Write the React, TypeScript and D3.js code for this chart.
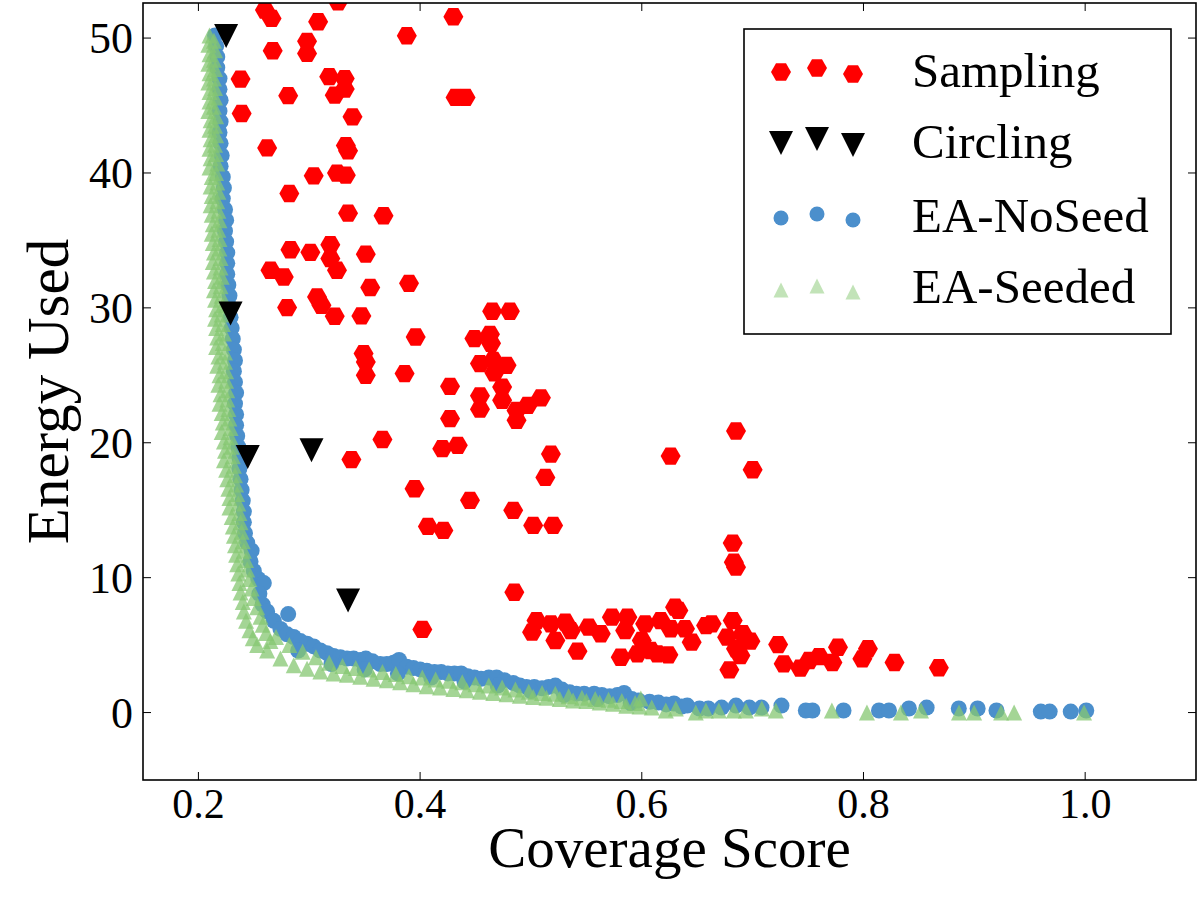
import React from 'react';
import * as d3 from 'd3';

// Sampling (red hexagons) — [coverage, energy]
const samplingPoints: [number, number][] = [
  [0.260, 52.08], [0.266, 51.46], [0.326, 52.69], [0.308, 51.21], [0.298, 49.76], [0.298, 48.86],
  [0.267, 49.06], [0.388, 50.17], [0.430, 51.58], [0.238, 46.96], [0.318, 47.14], [0.332, 47.0],
  [0.323, 45.77], [0.332, 46.22], [0.281, 45.73], [0.239, 44.41], [0.339, 44.16], [0.432, 45.60],
  [0.441, 45.60], [0.262, 41.86], [0.333, 42.03], [0.335, 41.64], [0.304, 39.79], [0.325, 39.99],
  [0.333, 39.84], [0.282, 38.48], [0.335, 37.02], [0.367, 36.83], [0.283, 34.31], [0.301, 34.12],
  [0.319, 34.68], [0.351, 33.98], [0.319, 33.66], [0.325, 32.79], [0.265, 32.79], [0.277, 32.29],
  [0.355, 31.51], [0.390, 31.82], [0.280, 30.02], [0.307, 30.81], [0.311, 30.19], [0.323, 29.38],
  [0.347, 29.40], [0.465, 29.75], [0.481, 29.75], [0.396, 27.84], [0.449, 27.72], [0.463, 28.04],
  [0.464, 27.37], [0.349, 26.61], [0.351, 25.99], [0.351, 25.0], [0.386, 25.13], [0.454, 25.87],
  [0.466, 26.11], [0.478, 25.74], [0.467, 25.19], [0.427, 24.18], [0.454, 23.48], [0.454, 22.49],
  [0.474, 24.13], [0.474, 23.15], [0.487, 22.40], [0.487, 21.66], [0.497, 22.77], [0.509, 23.33],
  [0.427, 21.79], [0.366, 20.24], [0.338, 18.75], [0.420, 19.56], [0.434, 19.81], [0.518, 19.16],
  [0.513, 17.43], [0.395, 16.59], [0.445, 15.73], [0.484, 14.99], [0.407, 13.80], [0.421, 13.50],
  [0.502, 13.87], [0.520, 13.87], [0.626, 19.01], [0.685, 20.87], [0.700, 18.0], [0.682, 12.56],
  [0.683, 11.15], [0.685, 10.78], [0.485, 8.92], [0.402, 6.16], [0.505, 6.82], [0.501, 5.96],
  [0.518, 6.58], [0.522, 5.34], [0.531, 6.70], [0.536, 6.08], [0.552, 6.33], [0.563, 5.84],
  [0.542, 4.55], [0.573, 7.07], [0.587, 7.07], [0.585, 6.08], [0.581, 4.10], [0.596, 4.35],
  [0.600, 5.34], [0.603, 6.58], [0.617, 6.82], [0.614, 4.35], [0.624, 4.28], [0.626, 6.21],
  [0.633, 7.57], [0.630, 7.81], [0.639, 6.21], [0.645, 5.22], [0.658, 6.45], [0.663, 6.58],
  [0.682, 6.82], [0.677, 5.59], [0.691, 5.84], [0.698, 5.29], [0.685, 4.73], [0.689, 4.23],
  [0.679, 3.17], [0.723, 5.04], [0.728, 3.61], [0.743, 3.30], [0.751, 3.86], [0.760, 4.15],
  [0.772, 3.71], [0.777, 4.84], [0.799, 3.98], [0.804, 4.73], [0.828, 3.71], [0.868, 3.32],
  [0.608, 4.60],
];

// Circling (black down triangles)
const circlingPoints: [number, number][] = [
  [0.225, 50.15], [0.229, 29.58], [0.2445, 18.94], [0.302, 19.44], [0.335, 8.31],
];

// EA-NoSeed (blue circles)
const noSeedPoints: [number, number][] = [
  [0.215, 50.2], [0.216, 49.4], [0.217, 48.6], [0.217, 47.8], [0.219, 47.0], [0.219, 46.2],
  [0.220, 45.4], [0.219, 44.6], [0.220, 43.8], [0.219, 43.0], [0.220, 42.2], [0.221, 41.3],
  [0.220, 40.5], [0.222, 39.7], [0.223, 38.9], [0.222, 38.1], [0.224, 37.3], [0.225, 36.5],
  [0.224, 35.7], [0.225, 34.9], [0.226, 34.1], [0.226, 33.3], [0.226, 32.5], [0.227, 31.7],
  [0.228, 30.9], [0.228, 30.1], [0.229, 29.3], [0.230, 28.5], [0.231, 27.7], [0.232, 26.9],
  [0.233, 26.1], [0.232, 25.3], [0.233, 24.5], [0.234, 23.7], [0.233, 22.9], [0.234, 22.1],
  [0.234, 21.3], [0.235, 20.5], [0.236, 19.7], [0.237, 18.9], [0.237, 18.1], [0.238, 17.3],
  [0.239, 16.5], [0.240, 15.7], [0.241, 14.9], [0.241, 14.1], [0.242, 13.3], [0.244, 12.6],
  [0.248, 12.0], [0.247, 11.2], [0.250, 10.5], [0.254, 9.9], [0.259, 9.6], [0.255, 8.8],
  [0.258, 8.0], [0.262, 7.5], [0.281, 7.3], [0.268, 6.8], [0.274, 6.2], [0.280, 5.8],
  [0.286, 5.6], [0.292, 5.3], [0.298, 5.1], [0.304, 4.9], [0.310, 4.6], [0.316, 4.4],
  [0.322, 4.2], [0.328, 4.1], [0.334, 4.0], [0.340, 4.0], [0.346, 3.9], [0.351, 4.0],
  [0.357, 3.8], [0.364, 3.6], [0.370, 3.6], [0.376, 3.7], [0.381, 3.9], [0.388, 3.4],
  [0.394, 3.3], [0.400, 3.2], [0.406, 3.1], [0.413, 3.0], [0.419, 3.0], [0.425, 2.9],
  [0.431, 2.9], [0.437, 2.9], [0.443, 2.7], [0.449, 2.6], [0.455, 2.5], [0.462, 2.6],
  [0.469, 2.6], [0.476, 2.4], [0.484, 2.2], [0.490, 2.0], [0.496, 1.9], [0.503, 1.9],
  [0.510, 1.8], [0.516, 1.9], [0.522, 2.0], [0.528, 1.7], [0.535, 1.5], [0.541, 1.4],
  [0.548, 1.4], [0.557, 1.4], [0.564, 1.3], [0.571, 1.2], [0.578, 1.3], [0.584, 1.45],
  [0.591, 1.0], [0.597, 0.9], [0.607, 0.8], [0.615, 0.74], [0.622, 0.6], [0.629, 0.67],
  [0.636, 0.45], [0.641, 0.52], [0.652, 0.3], [0.660, 0.3], [0.672, 0.37], [0.685, 0.52],
  [0.697, 0.37], [0.708, 0.37], [0.726, 0.52], [0.748, 0.15], [0.754, 0.15], [0.782, 0.15],
  [0.814, 0.15], [0.823, 0.15], [0.841, 0.3], [0.857, 0.37], [0.886, 0.3], [0.903, 0.3],
  [0.920, 0.15], [0.960, 0.07], [0.968, 0.07], [0.987, 0.07], [1.001, 0.15],
  // lower row of the bend, mostly under the green
  [0.290, 4.6], [0.320, 3.6], [0.350, 3.2], [0.380, 2.9], [0.410, 2.6], [0.440, 2.3],
  [0.470, 2.0], [0.500, 1.6], [0.530, 1.3], [0.560, 1.0], [0.590, 0.7],
];

// EA-Seeded (green up triangles)
const seededPoints: [number, number][] = [
  // left column of the steep part
  [0.210, 50.2], [0.209, 49.5], [0.210, 48.8], [0.209, 48.1], [0.210, 47.4], [0.209, 46.7],
  [0.210, 46.0], [0.210, 45.3], [0.209, 44.6], [0.211, 43.9], [0.210, 43.2], [0.211, 42.5],
  [0.210, 41.8], [0.211, 41.1], [0.210, 40.4], [0.212, 39.7], [0.211, 39.0], [0.212, 38.3],
  [0.211, 37.6], [0.212, 36.9], [0.213, 36.2], [0.212, 35.5], [0.213, 34.8], [0.214, 34.1],
  [0.213, 33.4], [0.214, 32.7], [0.215, 32.0], [0.214, 31.3], [0.215, 30.6], [0.216, 29.9],
  [0.215, 29.2], [0.216, 28.5], [0.217, 27.8], [0.216, 27.1], [0.218, 26.4], [0.217, 25.7],
  [0.219, 25.0], [0.218, 24.3], [0.220, 23.6], [0.219, 22.9], [0.221, 22.2], [0.222, 21.5],
  [0.221, 20.8], [0.223, 20.1], [0.224, 19.4], [0.223, 18.7], [0.225, 18.0], [0.226, 17.3],
  [0.227, 16.6], [0.228, 15.9], [0.228, 15.2], [0.230, 14.5], [0.231, 13.8], [0.232, 13.1],
  [0.233, 12.4], [0.234, 11.7], [0.235, 11.0], [0.236, 10.3], [0.237, 9.6], [0.238, 8.9],
  [0.240, 8.2], [0.241, 7.5], [0.243, 6.8], [0.246, 6.1], [0.249, 5.5], [0.253, 5.0],
  // right column of the steep part
  [0.214, 49.8], [0.215, 49.1], [0.214, 48.4], [0.215, 47.7], [0.214, 47.0], [0.215, 46.3],
  [0.215, 45.6], [0.214, 44.9], [0.216, 44.2], [0.215, 43.5], [0.216, 42.8], [0.215, 42.1],
  [0.216, 41.4], [0.217, 40.7], [0.216, 40.0], [0.217, 39.3], [0.218, 38.6], [0.217, 37.9],
  [0.218, 37.2], [0.219, 36.5], [0.218, 35.8], [0.219, 35.1], [0.219, 34.4], [0.220, 33.7],
  [0.220, 33.0], [0.221, 32.3], [0.220, 31.6], [0.221, 30.9], [0.222, 30.2], [0.221, 29.5],
  [0.222, 28.8], [0.223, 28.1], [0.222, 27.4], [0.224, 26.7], [0.224, 26.0], [0.225, 25.3],
  [0.225, 24.6], [0.226, 23.9], [0.226, 23.2], [0.227, 22.5], [0.228, 21.8], [0.229, 21.1],
  [0.229, 20.4], [0.230, 19.7], [0.231, 19.0], [0.232, 18.3], [0.233, 17.6], [0.234, 16.9],
  [0.235, 16.2], [0.236, 15.5], [0.237, 14.8], [0.238, 14.1], [0.239, 13.4], [0.240, 12.7],
  [0.241, 12.0], [0.243, 11.3], [0.244, 10.6], [0.246, 9.9], [0.248, 9.2], [0.250, 8.5],
  [0.253, 7.8], [0.256, 7.1], [0.258, 6.5], [0.261, 5.9], [0.265, 5.3],
  // upper row of the bend
  [0.270, 5.6], [0.282, 5.0], [0.294, 4.5], [0.306, 4.1], [0.318, 3.7], [0.330, 3.45],
  [0.342, 3.3], [0.354, 3.2], [0.366, 3.0], [0.378, 2.85], [0.390, 2.7], [0.402, 2.6],
  [0.414, 2.45], [0.426, 2.35], [0.438, 2.25], [0.450, 2.1], [0.462, 2.0], [0.474, 1.85],
  [0.486, 1.7], [0.498, 1.55], [0.510, 1.45], [0.522, 1.4], [0.534, 1.2], [0.546, 1.1],
  [0.558, 1.0], [0.570, 0.95], [0.582, 0.85], [0.594, 0.7],
  // lower row of the bend
  [0.262, 4.6], [0.274, 4.0], [0.286, 3.5], [0.298, 3.25], [0.310, 3.05], [0.322, 2.9],
  [0.334, 2.8], [0.346, 2.65], [0.358, 2.5], [0.370, 2.4], [0.382, 2.25], [0.394, 2.1],
  [0.406, 1.95], [0.418, 1.85], [0.430, 1.75], [0.442, 1.65], [0.454, 1.55], [0.466, 1.45],
  [0.478, 1.35], [0.490, 1.25], [0.502, 1.15], [0.514, 1.1], [0.526, 1.0], [0.538, 0.9],
  [0.550, 0.85], [0.562, 0.75], [0.574, 0.65], [0.586, 0.5], [0.598, 0.45],
  // tail
  [0.5991, 1.04], [0.609, 0.37], [0.6217, 0.15], [0.6307, 0.30], [0.6487, 0.0],
  [0.6578, 0.15], [0.6695, 0.15], [0.6831, 0.15], [0.6939, 0.15], [0.7083, 0.30], [0.7209, 0.15],
  [0.7715, 0.15], [0.8031, 0.0], [0.8338, 0.0], [0.8519, 0.15], [0.8862, 0.0], [0.8998, 0.0],
  [0.9242, 0.0], [0.9359, 0.0], [0.999, 0.0],
];

const xTicks = [0.2, 0.4, 0.6, 0.8, 1.0];
const yTicks = [0, 10, 20, 30, 40, 50];
const legendLabels = ['Sampling', 'Circling', 'EA-NoSeed', 'EA-Seeded'];

const W = 1200;
const H = 900;
const plot = { left: 143, top: 3, right: 1196, bottom: 780 };
const FONT = '"Liberation Serif", "DejaVu Serif", serif';

const RED = '#ff0000';
const BLUE = '#4b8fcc';
const GREEN = '#86c771';
const GREEN_ALPHA = 0.75;

// marker shapes (centred on 0,0)
const hexagon = (r: number) => {
  const pts = d3.range(6).map(i => {
    const a = (Math.PI / 3) * i;
    return [r * Math.cos(a), r * Math.sin(a)];
  });
  return 'M' + pts.map(p => p.join(',')).join('L') + 'Z';
};
const triDown = (s: number) => `M${-s / 2},${-s / 2}L${s / 2},${-s / 2}L0,${s / 2}Z`;
const triUp = (s: number) => `M0,${-s / 2}L${s / 2},${s / 2}L${-s / 2},${s / 2}Z`;

const HEX = hexagon(10);
const TRI_DOWN = triDown(24);
const TRI_UP = triUp(16);
const CIRCLE_R = 8;

export default function App() {
  const x = d3.scaleLinear().domain([0.15, 1.1]).range([plot.left, plot.right]);
  const y = d3.scaleLinear().domain([-5, 52.6]).range([plot.bottom, plot.top]);
  const fmtX = d3.format('.1f');

  // legend layout
  const lg = { x: 744, y: 29, w: 427, h: 305 };
  const rowY = [72, 143, 218, 290];
  const textY = [87, 158, 232, 303];
  const markX = [781, 817, 853];
  const markDy = [0, -4, 2];

  const legendMarker = (i: number, cx: number, cy: number, k: number) => {
    if (i === 0) return <path key={k} d={HEX} transform={`translate(${cx},${cy})`} fill={RED} />;
    if (i === 1) return <path key={k} d={TRI_DOWN} transform={`translate(${cx},${cy})`} fill="#000" />;
    if (i === 2) return <circle key={k} cx={cx} cy={cy} r={7.5} fill={BLUE} />;
    return <path key={k} d={triUp(15)} transform={`translate(${cx},${cy})`} fill={GREEN} fillOpacity={0.5} />;
  };

  return (
    <svg width={W} height={H} style={{ position: 'absolute', left: 0, top: 0, background: '#fff' }}
      fontFamily={FONT}>
      <rect x={0} y={0} width={W} height={H} fill="#fff" />
      <defs>
        <clipPath id="plotClip">
          <rect x={plot.left} y={plot.top} width={plot.right - plot.left} height={plot.bottom - plot.top} />
        </clipPath>
      </defs>

      <g clipPath="url(#plotClip)">
        {samplingPoints.map((d, i) => (
          <path key={'s' + i} d={HEX} transform={`translate(${x(d[0])},${y(d[1])})`} fill={RED} />
        ))}
        {noSeedPoints.map((d, i) => (
          <circle key={'b' + i} cx={x(d[0])} cy={y(d[1])} r={CIRCLE_R} fill={BLUE} />
        ))}
        {seededPoints.map((d, i) => (
          <path key={'g' + i} d={TRI_UP} transform={`translate(${x(d[0])},${y(d[1])})`}
            fill={GREEN} fillOpacity={GREEN_ALPHA} />
        ))}
        {circlingPoints.map((d, i) => (
          <path key={'c' + i} d={TRI_DOWN} transform={`translate(${x(d[0])},${y(d[1])})`} fill="#000" />
        ))}
      </g>

      {/* ticks, inside on all four sides */}
      {xTicks.map(t => (
        <g key={'xt' + t}>
          <line x1={x(t)} x2={x(t)} y1={plot.bottom} y2={plot.bottom - 8} stroke="#000" strokeWidth={1} />
          <line x1={x(t)} x2={x(t)} y1={plot.top} y2={plot.top + 8} stroke="#000" strokeWidth={1} />
          <text x={x(t)} y={plot.bottom + 38} textAnchor="middle" fontSize={42}>{fmtX(t)}</text>
        </g>
      ))}
      {yTicks.map(t => (
        <g key={'yt' + t}>
          <line x1={plot.left} x2={plot.left + 8} y1={y(t)} y2={y(t)} stroke="#000" strokeWidth={1} />
          <line x1={plot.right} x2={plot.right - 8} y1={y(t)} y2={y(t)} stroke="#000" strokeWidth={1} />
          <text x={plot.left - 10} y={y(t) + 15} textAnchor="end" fontSize={44}>{t}</text>
        </g>
      ))}

      <rect x={plot.left} y={plot.top} width={plot.right - plot.left} height={plot.bottom - plot.top}
        fill="none" stroke="#000" strokeWidth={1.6} />

      <text x={(plot.left + plot.right) / 2} y={867} textAnchor="middle" fontSize={57}>Coverage Score</text>
      <text transform={`translate(68,${(plot.top + plot.bottom) / 2}) rotate(-90)`} textAnchor="middle"
        fontSize={59}>Energy Used</text>

      {/* legend */}
      <rect x={lg.x} y={lg.y} width={lg.w} height={lg.h} fill="#fff" stroke="#000" strokeWidth={1.6} />
      {legendLabels.map((label, i) => (
        <g key={label}>
          {markX.map((mx, j) => legendMarker(i, mx, rowY[i] + markDy[j], j))}
          <text x={912} y={textY[i]} fontSize={49}>{label}</text>
        </g>
      ))}
    </svg>
  );
}
